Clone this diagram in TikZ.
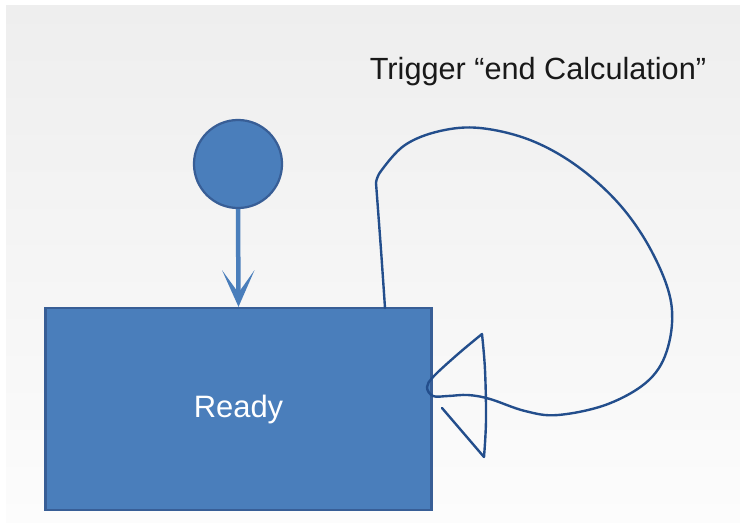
\documentclass[tikz,border=0pt]{standalone}
\usepackage{fontspec}
\setmainfont{Liberation Sans}
\usepackage{tikz}
\usetikzlibrary{shapes.geometric}
\usetikzlibrary{arrows.meta}

\definecolor{stateblue}{RGB}{74,126,187}
\definecolor{stateedge}{RGB}{56,94,150}
\definecolor{loopblue}{RGB}{35,78,140}
\definecolor{bgtop}{RGB}{238,238,238}
\definecolor{bgbottom}{RGB}{252,252,252}

\tikzset{
	state/.style={draw=stateedge, line width=1.6pt, fill=stateblue, rectangle, minimum width=9.65cm, minimum height=5.05cm, text=white, font=\fontsize{22}{26}\selectfont},
	initial/.style={draw=stateedge, line width=1.6pt, fill=stateblue, circle, minimum size=2.2cm, inner sep=0pt},
	entry/.style={draw=stateblue, line width=3.2pt, -{Stealth[length=26pt, width=23pt, inset=16pt]}},
	loopline/.style={draw=loopblue, line width=1.7pt, line cap=round, line join=round}
}

\begin{document}
\begin{tikzpicture}[x=0.025cm, y=-0.025cm]
		\useasboundingbox (0,0) rectangle (740,527);
		% Background:
		\shade[top color=bgtop, bottom color=bgbottom] (6,5) rectangle (740,522);
		% Nodes:
		\node[initial] (start) at (238,164) {};
		\node[state] (ready) at (238.5,409) {Ready};
		\node[font=\fontsize{21.8}{26}\selectfont, text=black!90] (trigger) at (538,72) {Trigger “end Calculation”};
		\coordinate (loopout) at (385,308);
		\coordinate (loopend) at (442,408);
		% Paths and wires:
		\draw[entry] (start.south) -- (ready.north);
		\draw[loopline] (loopout) -- plot[smooth, tension=0.55] coordinates {(385,308) (381,250) (376,183)}
			-- plot[smooth, tension=0.6] coordinates {(376,183) (381,171) (405,145) (440,131) (480,128) (530,140) (577,166) (620,205) (652,252) (671,302) (668,347) (649,380) (608,404) (558,415) (525,411) (490,399) (468,395) (448,396) (433,396) (427,387) (434,376) (458,354) (482,334)}
			-- plot[smooth, tension=0.6] coordinates {(482,334) (485,370) (486,420) (484,457)}
			-- (loopend);
	\end{tikzpicture}
\end{document}
